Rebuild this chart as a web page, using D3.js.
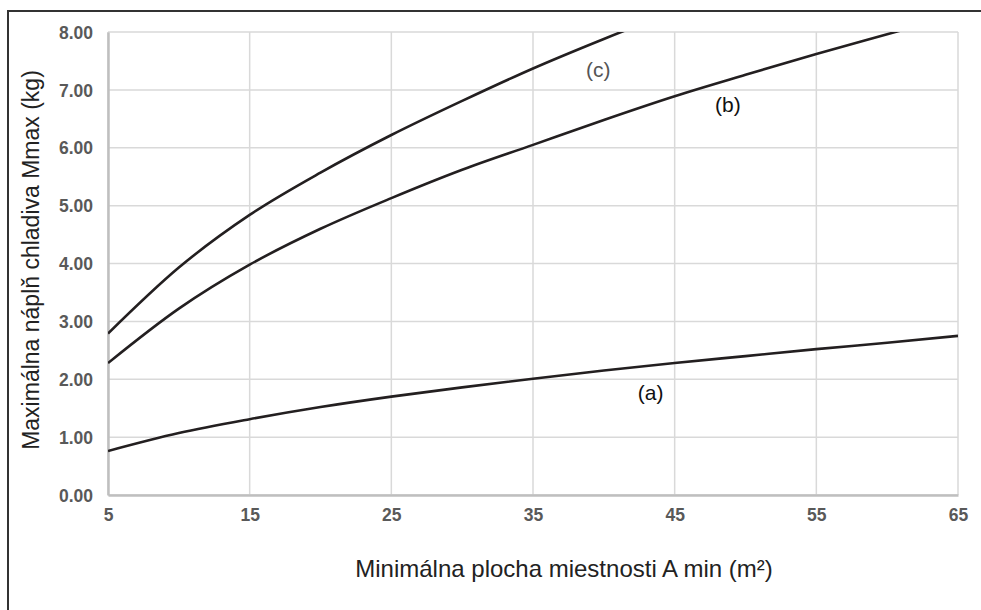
<!DOCTYPE html>
<html lang="sk">

<head>
  <meta charset="utf-8">
  <script src="https://cdn.jsdelivr.net/npm/d3@7/dist/d3.min.js"></script>
  <style>
    body {
      margin: 0;
      background: #fff;
      font-family: Arial, "Liberation Sans", sans-serif;
    }

    .curve {
      fill: none;
      stroke: #231f20;
      stroke-width: 2.6px;
    }
  </style>
</head>

<body>
  <svg id="chart" width="981" height="610"></svg>

  <script>
    // plocha miestnosti (m2)
    var areas = [5, 10, 15, 20, 25, 30, 35, 40, 45, 50, 55, 60, 65];
    // krivky (a), (b), (c) - maximalna napln (kg)
    var seriesA = [0.76, 1.07, 1.31, 1.52, 1.70, 1.86, 2.01, 2.15, 2.28, 2.40, 2.52, 2.63, 2.75];
    var seriesB = [2.28, 3.22, 3.98, 4.60, 5.13, 5.62, 6.05, 6.48, 6.89, 7.26, 7.62, 7.96, 8.30];
    var seriesC = [2.79, 3.93, 4.84, 5.57, 6.22, 6.81, 7.37, 7.88, 8.36];
    var xTicks = [5, 15, 25, 35, 45, 55, 65];
    var yTicks = [0, 1, 2, 3, 4, 5, 6, 7, 8];
    var labels = [
      { name: '(a)', x: 43.3, y: 1.76, color: '#111' },
      { name: '(b)', x: 48.75, y: 6.74, color: '#111' },
      { name: '(c)', x: 39.6, y: 7.35, color: '#555' }
    ];

    var margin = { top: 32, left: 108, bottom: 115, right: 23 };
    var W = 981, H = 610;
    var width = W - margin.left - margin.right;
    var height = H - margin.top - margin.bottom;

    var svg = d3.select('#chart');

    // outer frame
    svg.append('rect')
      .attr('x', 8).attr('y', 11)
      .attr('width', 990).attr('height', 620)
      .attr('fill', 'none')
      .attr('stroke', '#333')
      .attr('stroke-width', 2);

    var g = svg.append('g')
      .attr('transform', 'translate(' + margin.left + ',' + margin.top + ')');

    var x = d3.scaleLinear().domain([5, 65]).range([0, width]);
    var y = d3.scaleLinear().domain([0, 8]).range([height, 0]);

    // grid
    g.append('g').selectAll('line')
      .data(xTicks)
      .enter().append('line')
      .attr('x1', function (d) { return x(d); })
      .attr('x2', function (d) { return x(d); })
      .attr('y1', 0).attr('y2', height)
      .attr('stroke', '#d9d9d9').attr('stroke-width', 1.5);

    g.append('g').selectAll('line')
      .data(yTicks)
      .enter().append('line')
      .attr('x1', 0).attr('x2', width)
      .attr('y1', function (d) { return y(d); })
      .attr('y2', function (d) { return y(d); })
      .attr('stroke', '#d9d9d9').attr('stroke-width', 1.5);

    // axes
    var xAxis = d3.axisBottom(x).tickValues(xTicks).tickSize(0).tickPadding(14)
      .tickFormat(d3.format('d'));
    var yAxis = d3.axisLeft(y).tickValues(yTicks).tickSize(0).tickPadding(15)
      .tickFormat(d3.format('.2f'));

    var gx = g.append('g')
      .attr('class', 'x axis')
      .attr('transform', 'translate(0,' + height + ')')
      .call(xAxis);
    gx.select('.domain').attr('stroke', '#bfbfbf').attr('stroke-width', 2.5);

    var gy = g.append('g')
      .attr('class', 'y axis')
      .call(yAxis);
    gy.select('.domain').attr('stroke', '#bfbfbf').attr('stroke-width', 2.5);

    g.selectAll('.axis text')
      .attr('fill', '#595959')
      .attr('font-weight', 'bold')
      .attr('font-size', 17.5)
      .attr('font-family', 'Arial, "Liberation Sans", sans-serif');
    gy.selectAll('.tick text').attr('dy', '0.35em');

    // curves
    g.append('clipPath').attr('id', 'clip')
      .append('rect').attr('width', width).attr('height', height);

    var line = d3.line()
      .curve(d3.curveMonotoneX)
      .x(function (d) { return x(d[0]); })
      .y(function (d) { return y(d[1]); });

    [seriesA, seriesB, seriesC].forEach(function (s) {
      g.append('path')
        .datum(s.map(function (v, i) { return [areas[i], v]; }))
        .attr('class', 'curve')
        .attr('clip-path', 'url(#clip)')
        .attr('d', line);
    });

    // curve labels
    g.selectAll('.lbl')
      .data(labels)
      .enter().append('text')
      .attr('class', 'lbl')
      .attr('x', function (d) { return x(d.x); })
      .attr('y', function (d) { return y(d.y); })
      .attr('text-anchor', 'middle')
      .attr('dy', '0.35em')
      .attr('font-size', 21)
      .attr('fill', function (d) { return d.color; })
      .text(function (d) { return d.name; });

    // axis titles
    svg.append('text')
      .attr('x', 564).attr('y', 577)
      .attr('text-anchor', 'middle')
      .attr('font-size', 24)
      .attr('fill', '#222')
      .text('Minimálna plocha miestnosti A min (m²)');

    svg.append('text')
      .attr('transform', 'translate(39,260) rotate(-90)')
      .attr('text-anchor', 'middle')
      .attr('font-size', 23)
      .attr('fill', '#222')
      .text('Maximálna náplň chladiva Mmax (kg)');
  </script>
</body>

</html>
